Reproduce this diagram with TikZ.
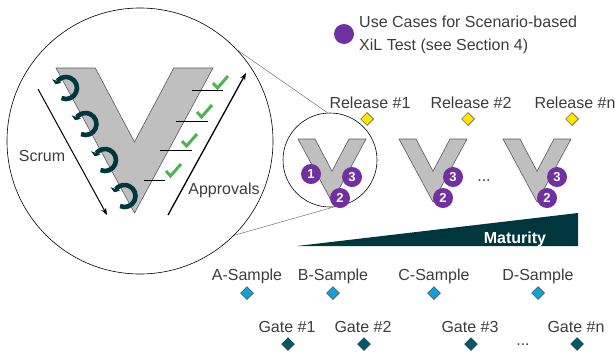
\documentclass[tikz,border=0pt]{standalone}
\usepackage{fontspec}
\setmainfont{Liberation Sans}
\usetikzlibrary{shapes.geometric,arrows.meta,positioning}
\definecolor{vgray}{RGB}{191,191,191}
\definecolor{txtgray}{RGB}{60,60,60}
\definecolor{ucpurple}{RGB}{112,48,160}
\definecolor{darkteal}{RGB}{0,54,61}
\definecolor{gateteal}{RGB}{0,88,104}
\definecolor{sampleblue}{RGB}{20,160,215}
\definecolor{relyellow}{RGB}{255,228,0}
\definecolor{checkgreen}{RGB}{76,180,80}
\newcommand{\vmodel}[4]{%
  \filldraw[fill=vgray,draw=black!65,line width=0.6pt] (#1,-#2) -- (#1+0.25*#3,-#2)
    -- (#1+0.5*#3,-#2-0.51*#4) -- (#1+0.75*#3,-#2) -- (#1+#3,-#2) -- (#1+0.5*#3,-#2-#4) -- cycle;}
\tikzset{
  lbl/.style={text=txtgray,font=\fontsize{16}{19}\selectfont,anchor=base,inner sep=0pt},
  ucnum/.style={circle,fill=ucpurple,text=white,font=\bfseries\fontsize{13}{13}\selectfont,inner sep=0pt,minimum size=20pt},
  milestone/.style={diamond,draw=black!75,line width=0.5pt,inner sep=0pt,minimum size=13pt},
  scrumloop/.style={darkteal,line width=4.6pt,-{Triangle[length=3.5pt,width=10pt]}},
  check/.style={checkgreen,line width=3pt}
}
\begin{document}
\begin{tikzpicture}[x=1pt,y=1pt]
    \useasboundingbox (0,0) rectangle (615,-354);
    \node[circle,draw,line width=0.6pt,minimum size=266pt,inner sep=0pt] (lens) at (140,-141) {};
    \node[circle,draw,line width=0.6pt,minimum size=94pt,inner sep=0pt] (focus) at (330,-160) {};
    \draw[black!55,line width=0.5pt] (lens.43) -- (focus.93);
    \draw[black!55,line width=0.5pt] (lens.-45) -- (focus.-86);
    \vmodel{56}{68}{157}{145}
    \foreach \y/\xa/\xb in {90/192/223, 121/176/208, 150/160/192, 180/144/165}
        \draw[line width=0.8pt] (\xa,-\y) -- (\xb,-\y);
    \foreach \cx/\cy in {220/83, 204/112, 189/141, 173/171}
        \draw[check] (\cx-7,-\cy) -- (\cx-2.5,-\cy-5) -- (\cx+8,-\cy+7);
    \foreach \lx/\ly in {66/88, 85.5/124, 105/160, 124.5/196}
        \draw[scrumloop] (\lx,-\ly) ++(-114:11pt) arc (-114:160:11pt);
    \coordinate (scrumA) at (38,-89);
    \coordinate (scrumB) at (107,-215);
    \coordinate (apprA) at (168,-215);
    \coordinate (apprB) at (246,-73);
    \draw[line width=1pt,-{Stealth[length=7pt]}] (scrumA) -- (scrumB);
    \draw[line width=1.3pt,-{Stealth[length=7pt]}] (apprA) -- (apprB);
    \node[lbl] (scrum) at (42,-161) {Scrum};
    \node[lbl] (approvals) at (224,-194) {Approvals};
    \vmodel{298}{139}{68}{63}
    \vmodel{399}{139}{68}{63}
    \vmodel{503}{139}{68}{63}
    \node[ucnum] (uc1) at (311,-174) {1};
    \node[ucnum] (uc3a) at (352,-177) {3};
    \node[ucnum] (uc2a) at (340,-198) {2};
    \node[ucnum] (uc3b) at (453,-177) {3};
    \node[ucnum] (uc2b) at (443,-198) {2};
    \node[ucnum] (uc3c) at (557,-177) {3};
    \node[ucnum] (uc2c) at (547,-198) {2};
    \node[lbl] (vdots) at (484,-181) {...};
    \node[ucnum] (legdot) at (344,-34) {};
    \node[text=txtgray,font=\fontsize{16}{23.5}\selectfont,anchor=west,align=left,inner sep=0pt] (legend) at (359,-35)
        {Use Cases for Scenario-based\\XiL Test (see Section 4)};
    \foreach \x/\t [count=\i] in {367/1, 468/2, 572/n} {
        \node[milestone,fill=relyellow] (rel\i) at (\x,-119) {};
        \node[lbl] (reltxt\i) at (\x+3,-108) {Release \#\t};
    }
    \fill[darkteal] (297,-246) -- (578,-246) -- (578,-213) -- cycle;
    \node[lbl,text=white,font=\bfseries\fontsize{16}{19}\selectfont] (maturity) at (515,-243) {Maturity};
    \foreach \x/\t [count=\i] in {247/A, 333/B, 434/C, 538/D} {
        \node[milestone,fill=sampleblue] (smp\i) at (\x,-293) {};
        \node[lbl] (smptxt\i) at (\x,-280) {\t-Sample};
    }
    \foreach \x/\t [count=\i] in {288/1, 364/2, 471/3, 577/n} {
        \node[milestone,fill=gateteal] (gate\i) at (\x,-344) {};
        \node[lbl] (gatetxt\i) at (\x-1,-332) {Gate \#\t};
    }
    \node[lbl] (gdots) at (523,-345) {...};
\end{tikzpicture}
\end{document}
